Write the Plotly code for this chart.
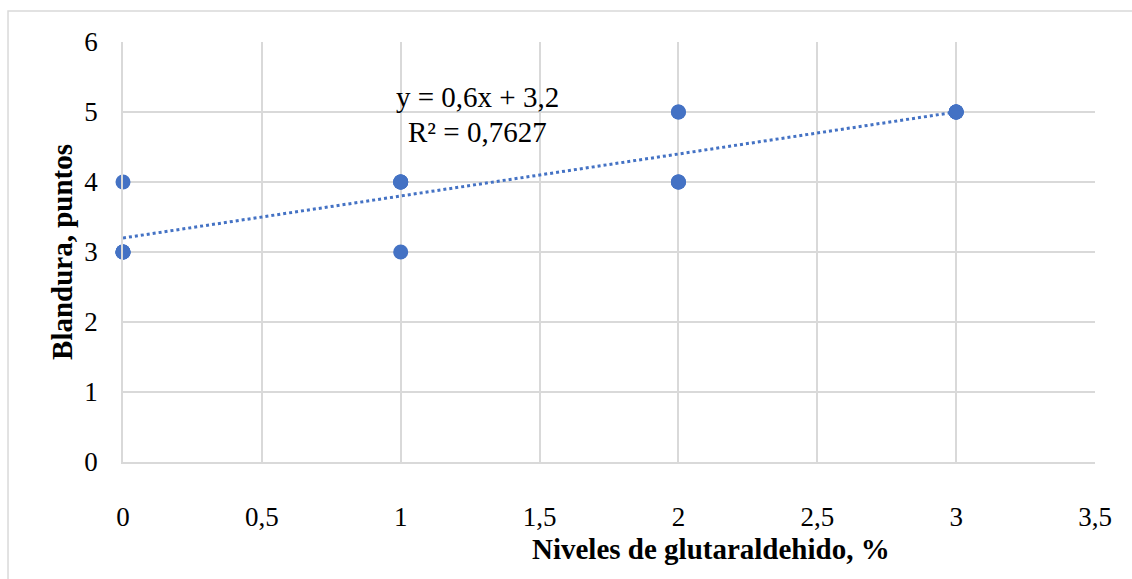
import numpy as np
import plotly.graph_objects as go

# Data: glutaraldehyde level (%) and softness score, 5 replicates per level
niveles = [0, 0, 0, 0, 0, 1, 1, 1, 1, 1, 2, 2, 2, 2, 2, 3, 3, 3, 3, 3]
blandura = [3, 3, 3, 3, 4, 3, 4, 4, 4, 4, 4, 4, 4, 5, 5, 5, 5, 5, 5, 5]

x_ticks = [0, 0.5, 1, 1.5, 2, 2.5, 3, 3.5]
x_ticklabels = ["0", "0,5", "1", "1,5", "2", "2,5", "3", "3,5"]
y_ticks = [0, 1, 2, 3, 4, 5, 6]

x_title = "Niveles de glutaraldehido, %"
y_title = "Blandura, puntos"

x = np.array(niveles, dtype=float)
y = np.array(blandura, dtype=float)
slope, intercept = np.polyfit(x, y, 1)
yhat = slope * x + intercept
r2 = 1 - np.sum((y - yhat) ** 2) / np.sum((y - y.mean()) ** 2)

def fmt(v, nd):
    s = f"{v:.{nd}f}".rstrip("0").rstrip(".")
    return s.replace(".", ",")

eq_text = f"y = {fmt(slope, 4)}x + {fmt(intercept, 4)}"
r2_text = f"R² = {r2:.4f}".replace(".", ",")

BLUE = "#4472C4"
GRID = "#D9D9D9"
FONT = "Liberation Serif, Times New Roman, serif"
TFONT = dict(family=FONT, size=27, color="black")
BIG = dict(family=FONT, size=29, color="black")

fig = go.Figure()

xl = np.array([x.min(), x.max()])
fig.add_trace(go.Scatter(
    x=xl, y=slope * xl + intercept, mode="lines",
    line=dict(color=BLUE, width=3, dash="dot"),
    hoverinfo="skip", showlegend=False,
))
fig.add_trace(go.Scatter(
    x=x, y=y, mode="markers",
    marker=dict(color=BLUE, size=15),
    cliponaxis=False,
    showlegend=False,
))

fig.update_layout(
    width=1132, height=579,
    margin=dict(l=123, r=37, t=42, b=117),
    paper_bgcolor="white", plot_bgcolor="white",
    font=TFONT,
    xaxis=dict(
        range=[0, 3.5], tickvals=x_ticks, ticktext=x_ticklabels, tickfont=TFONT,
        showgrid=True, gridcolor=GRID, gridwidth=1.5,
        showline=True, linecolor=GRID, linewidth=1.5,
        zeroline=False, ticks="outside", ticklen=30, tickcolor="rgba(0,0,0,0)",
        fixedrange=True,
    ),
    yaxis=dict(
        range=[0, 6], tickvals=y_ticks, tickfont=TFONT,
        showgrid=True, gridcolor=GRID, gridwidth=1.5,
        showline=True, linecolor=GRID, linewidth=1.5,
        zeroline=False, ticks="outside", ticklen=18, tickcolor="rgba(0,0,0,0)",
        fixedrange=True,
    ),
    shapes=[dict(
        type="rect", xref="paper", yref="paper",
        x0=-0.1183, x1=1.06, y0=-0.32, y1=1.0738,
        line=dict(color=GRID, width=1.5), fillcolor="rgba(0,0,0,0)", layer="below",
    )],
    annotations=[
        dict(text=f"<b>{x_title}</b>", xref="paper", yref="paper",
             x=0.605, y=-0.207, yanchor="middle", xanchor="center",
             showarrow=False, font=BIG),
        dict(text=f"<b>{y_title}</b>", xref="paper", yref="paper",
             x=-0.0628, y=0.5, xanchor="center", yanchor="middle",
             textangle=-90, showarrow=False, font=BIG),
        dict(text=eq_text, x=1.275, y=5.21, xref="x", yref="y",
             showarrow=False, xanchor="center", yanchor="middle", font=BIG),
        dict(text=r2_text, x=1.275, y=4.71, xref="x", yref="y",
             showarrow=False, xanchor="center", yanchor="middle", font=BIG),
    ],
)

fig.write_html("out.html", config={"displayModeBar": False},
               post_script="document.body.style.margin='0';")
